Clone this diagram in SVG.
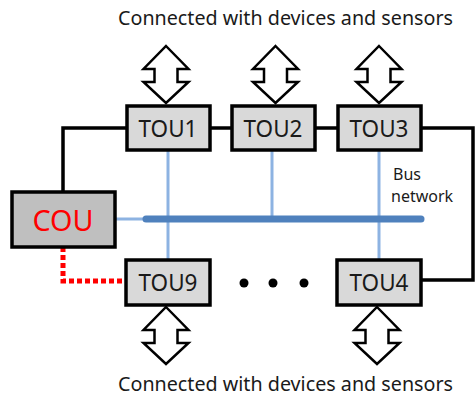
<svg xmlns="http://www.w3.org/2000/svg" width="476" height="396" viewBox="0 0 476 396">
  <defs>
    <style>
      .tou rect { fill: #d9d9d9; stroke: #000; stroke-width: 3.5; }
      .cou rect { fill: #bfbfbf; stroke: #000; stroke-width: 3.5; }
      .lbl { font-family: "Noto Sans", "Open Sans", sans-serif; font-size: 23px; fill: #1a1a1a; text-anchor: middle; }
      .coulbl { font-family: "Noto Sans", "Open Sans", sans-serif; font-size: 29px; fill: #ff0000; text-anchor: middle; }
      .cap { font-family: "Noto Sans", "Open Sans", sans-serif; font-size: 19px; fill: #1a1a1a; }
      .bus { font-family: "Noto Sans", "Open Sans", sans-serif; font-size: 16px; fill: #1a1a1a; }
      .wire { fill: none; stroke: #000; stroke-width: 3.5; }
      .tap { fill: none; stroke: #8db3e2; stroke-width: 3; }
      .trunk { fill: none; stroke: #4f81bd; stroke-width: 7; stroke-linecap: round; }
      .serial { fill: none; stroke: #ff0000; stroke-width: 5; stroke-dasharray: 5 3; }
      .io { fill: #fff; stroke: #000; stroke-width: 2.5; stroke-linejoin: miter; }
    </style>
    <!-- double-headed I/O arrow, 57px tall, centred on x=0, top at y=0 -->
    <path id="ioArrow" d="M0 0 L22.5 23 L11.5 23 L11.5 36 L22.5 36 L0 57 L-22.5 36 L-11.5 36 L-11.5 23 L-22.5 23 Z"/>
  </defs>

  <!-- captions -->
  <text class="cap" x="118" y="25" textLength="335" lengthAdjust="spacingAndGlyphs">Connected with devices and sensors</text>
  <text class="cap" x="118" y="391" textLength="335" lengthAdjust="spacingAndGlyphs">Connected with devices and sensors</text>
  <text class="bus" x="393" y="180">Bus</text>
  <text class="bus" x="391" y="202">network</text>

  <!-- connectors -->
  <g id="connectors">
    <!-- ring wiring -->
    <path class="wire" d="M127 128 H63 V192"/>
    <path class="wire" d="M210 128 H232"/>
    <path class="wire" d="M315 128 H338"/>
    <path class="wire" d="M421 128 H473 V280 H421"/>
    <!-- bus taps -->
    <path class="tap" d="M115 219 H148"/>
    <path class="tap" d="M168 150 V260"/>
    <path class="tap" d="M272 150 V219"/>
    <path class="tap" d="M379 150 V260"/>
    <!-- bus trunk -->
    <path class="trunk" d="M146 219 H421"/>
    <!-- serial link COU to TOU9 -->
    <path class="serial" d="M63 247 V281 H126"/>
    <!-- I/O arrows -->
    <use href="#ioArrow" class="io" x="166" y="46"/>
    <use href="#ioArrow" class="io" x="275.5" y="46"/>
    <use href="#ioArrow" class="io" x="379" y="46"/>
    <use href="#ioArrow" class="io" x="166" y="307"/>
    <use href="#ioArrow" class="io" x="377" y="307"/>
    <!-- ellipsis -->
    <circle cx="244" cy="283" r="4.5" fill="#000"/>
    <circle cx="273" cy="283" r="4.5" fill="#000"/>
    <circle cx="304" cy="283" r="4.5" fill="#000"/>
  </g>

  <g id="COU" class="cou">
    <rect x="12" y="192" width="103" height="55"/>
    <text class="coulbl" x="63" y="231" textLength="61" lengthAdjust="spacingAndGlyphs">COU</text>
  </g>
  <g id="TOU1" class="tou">
    <rect x="127" y="106" width="83" height="44"/>
    <text class="lbl" x="168" y="137" textLength="59" lengthAdjust="spacingAndGlyphs">TOU1</text>
  </g>
  <g id="TOU2" class="tou">
    <rect x="232" y="106" width="83" height="44"/>
    <text class="lbl" x="273" y="137" textLength="59" lengthAdjust="spacingAndGlyphs">TOU2</text>
  </g>
  <g id="TOU3" class="tou">
    <rect x="338" y="106" width="83" height="44"/>
    <text class="lbl" x="379" y="137" textLength="59" lengthAdjust="spacingAndGlyphs">TOU3</text>
  </g>
  <g id="TOU9" class="tou">
    <rect x="126" y="260" width="84" height="45"/>
    <text class="lbl" x="168" y="291" textLength="59" lengthAdjust="spacingAndGlyphs">TOU9</text>
  </g>
  <g id="TOU4" class="tou">
    <rect x="337" y="260" width="84" height="45"/>
    <text class="lbl" x="379" y="291" textLength="59" lengthAdjust="spacingAndGlyphs">TOU4</text>
  </g>
</svg>
